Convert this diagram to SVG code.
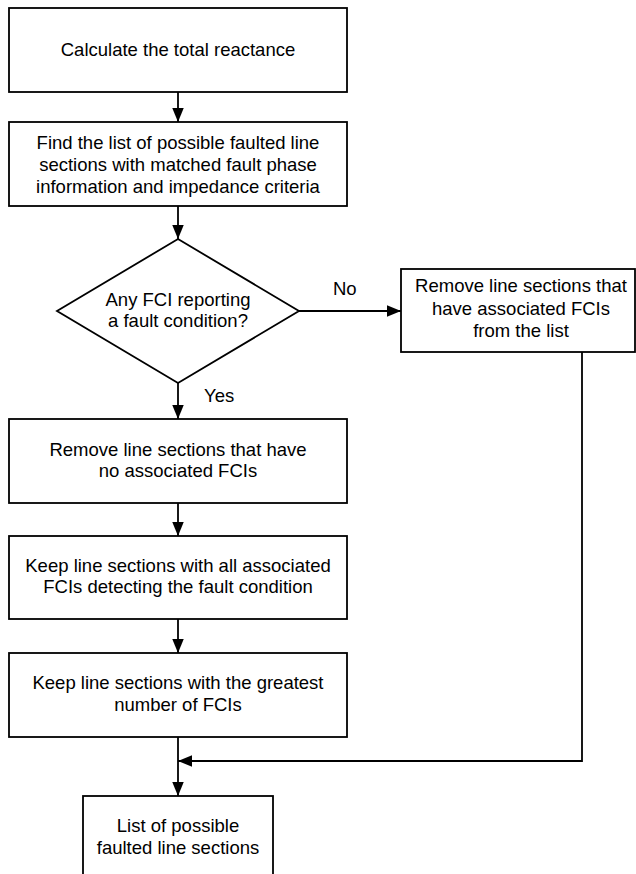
<svg xmlns="http://www.w3.org/2000/svg" width="636" height="874" viewBox="0 0 636 874">
<style>
.box{fill:#fff;stroke:#000;stroke-width:1.8}
.t{font-family:"Liberation Sans",Arial,sans-serif;font-size:18.5px;fill:#000;text-anchor:middle}
.l{font-family:"Liberation Sans",Arial,sans-serif;font-size:18.5px;fill:#000}
.c{fill:none;stroke:#000;stroke-width:1.8}
</style>
<defs>
<marker id="ah" markerUnits="userSpaceOnUse" markerWidth="15" markerHeight="12" refX="14" refY="5.75" orient="auto">
<path d="M0,0 L14,5.75 L0,11.5 z" fill="#000"/>
</marker>
</defs>
<rect width="636" height="874" fill="#fff"/>
<g id="connectors">
<line class="c" x1="178" y1="92" x2="178" y2="122" marker-end="url(#ah)"/>
<line class="c" x1="178" y1="206" x2="178" y2="239" marker-end="url(#ah)"/>
<line class="c" x1="299" y1="311" x2="401" y2="311" marker-end="url(#ah)"/>
<line class="c" x1="178" y1="383" x2="178" y2="419" marker-end="url(#ah)"/>
<line class="c" x1="178" y1="503" x2="178" y2="536" marker-end="url(#ah)"/>
<line class="c" x1="178" y1="619" x2="178" y2="653" marker-end="url(#ah)"/>
<line class="c" x1="178" y1="737" x2="178" y2="796" marker-end="url(#ah)"/>
<polyline class="c" points="582,352 582,761 178,761" marker-end="url(#ah)"/>
<text class="l" x="333" y="295">No</text>
<text class="l" x="204" y="402">Yes</text>
</g>
<g id="n1">
<rect class="box" x="9" y="8" width="338" height="84"/>
<text class="t" x="178" y="56">Calculate the total reactance</text>
</g>
<g id="n2">
<rect class="box" x="9" y="122" width="338" height="84"/>
<text class="t" x="178" y="149">Find the list of possible faulted line</text>
<text class="t" x="178" y="171">sections with matched fault phase</text>
<text class="t" x="178" y="193">information and impedance criteria</text>
</g>
<g id="n3">
<polygon class="box" points="178,239 299,311 178,383 57,311"/>
<text class="t" x="178" y="306">Any FCI reporting</text>
<text class="t" x="178" y="327">a fault condition?</text>
</g>
<g id="n4">
<rect class="box" x="401" y="269" width="234" height="83"/>
<text class="t" x="521" y="292">Remove line sections that</text>
<text class="t" x="521" y="315">have associated FCIs</text>
<text class="t" x="521" y="337">from the list</text>
</g>
<g id="n5">
<rect class="box" x="9" y="419" width="338" height="84"/>
<text class="t" x="178" y="456">Remove line sections that have</text>
<text class="t" x="178" y="477">no associated FCIs</text>
</g>
<g id="n6">
<rect class="box" x="9" y="536" width="338" height="83"/>
<text class="t" x="178" y="572">Keep line sections with all associated</text>
<text class="t" x="178" y="593">FCIs detecting the fault condition</text>
</g>
<g id="n7">
<rect class="box" x="9" y="653" width="338" height="84"/>
<text class="t" x="178" y="689">Keep line sections with the greatest</text>
<text class="t" x="178" y="711">number of FCIs</text>
</g>
<g id="n8">
<rect class="box" x="83" y="796" width="190" height="90"/>
<text class="t" x="178" y="832">List of possible</text>
<text class="t" x="178" y="854">faulted line sections</text>
</g>
</svg>
